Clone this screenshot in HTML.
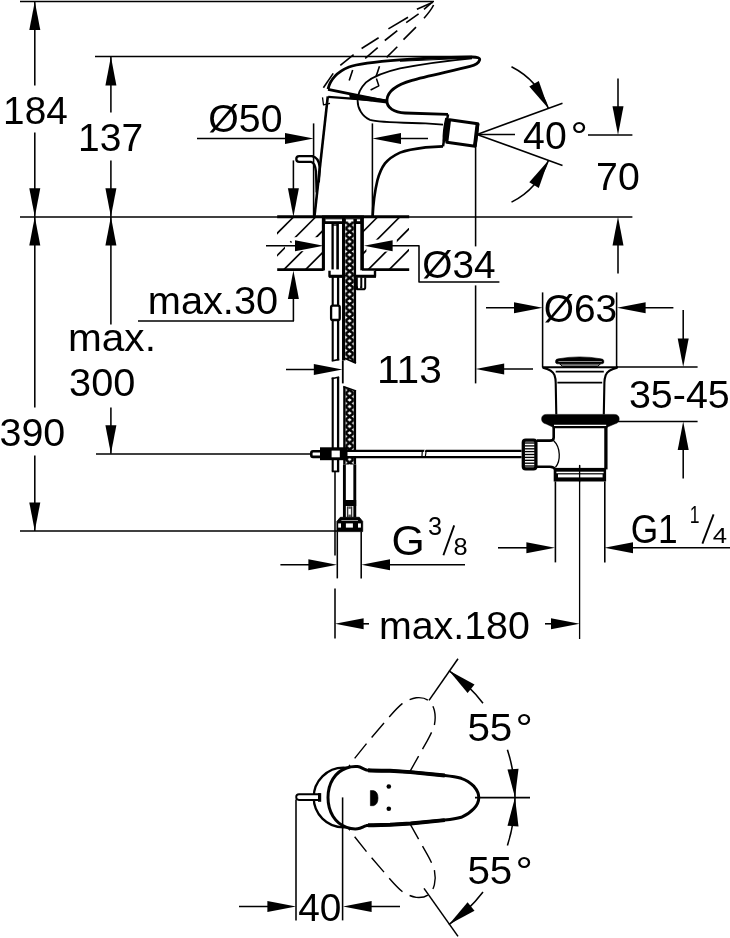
<!DOCTYPE html>
<html><head><meta charset="utf-8"><title>Dimension drawing</title>
<style>html,body{margin:0;padding:0;background:#fff;}svg{display:block;will-change:transform;}text{fill:#000;stroke:none;font-family:"Liberation Sans",sans-serif;}</style>
</head><body>
<svg width="730" height="938" viewBox="0 0 730 938" stroke="#000" fill="none" stroke-linecap="butt" stroke-linejoin="round" font-family="Liberation Sans, sans-serif">
<defs><pattern id="hose" x="345.4" y="221.4" width="8.4" height="6.6" patternUnits="userSpaceOnUse"><rect width="8.4" height="6.6" fill="#fff" stroke="none"/><path d="M0,0L8.4,6.6M8.4,0L0,6.6" stroke="#000" stroke-width="2.5"/></pattern><clipPath id="hl"><rect x="277" y="216.4" width="46.6" height="53"/></clipPath><clipPath id="hr"><rect x="362" y="216.4" width="47" height="53"/></clipPath></defs>
<rect x="0" y="0" width="730" height="938" fill="#fff" stroke="none"/>
<g transform="translate(0,0.4)">
<line x1="20.0" y1="1.0" x2="434.0" y2="1.0" stroke-width="1.55" />
<line x1="95.0" y1="56.1" x2="472.0" y2="56.1" stroke-width="1.55" />
<line x1="20.0" y1="216.5" x2="632.4" y2="216.5" stroke-width="1.55" />
<line x1="96.0" y1="453.6" x2="310.0" y2="453.6" stroke-width="1.55" />
<line x1="20.0" y1="530.6" x2="337.0" y2="530.6" stroke-width="1.55" />
<line x1="34.8" y1="1.0" x2="34.8" y2="85.0" stroke-width="1.55" />
<line x1="34.8" y1="132.0" x2="34.8" y2="216.4" stroke-width="1.55" />
<polygon points="34.8,1.0 40.3,29.6 29.3,29.6" fill="#000" stroke="none"/>
<polygon points="34.8,216.4 29.3,187.8 40.3,187.8" fill="#000" stroke="none"/>
<polygon points="34.8,216.4 40.3,245.0 29.3,245.0" fill="#000" stroke="none"/>
<line x1="34.8" y1="216.4" x2="34.8" y2="407.0" stroke-width="1.55" />
<line x1="34.8" y1="455.0" x2="34.8" y2="530.6" stroke-width="1.55" />
<polygon points="34.8,530.6 29.3,502.0 40.3,502.0" fill="#000" stroke="none"/>
<line x1="110.9" y1="56.4" x2="110.9" y2="112.0" stroke-width="1.55" />
<line x1="110.9" y1="160.0" x2="110.9" y2="216.4" stroke-width="1.55" />
<polygon points="110.9,56.4 116.4,85.0 105.4,85.0" fill="#000" stroke="none"/>
<polygon points="110.9,216.4 105.4,187.8 116.4,187.8" fill="#000" stroke="none"/>
<polygon points="110.9,216.4 116.4,245.0 105.4,245.0" fill="#000" stroke="none"/>
<line x1="110.9" y1="216.4" x2="110.9" y2="324.0" stroke-width="1.55" />
<line x1="110.9" y1="407.0" x2="110.9" y2="453.4" stroke-width="1.55" />
<polygon points="110.9,453.4 105.4,424.8 116.4,424.8" fill="#000" stroke="none"/>
<line x1="197.0" y1="138.0" x2="300.0" y2="138.0" stroke-width="1.55" />
<polygon points="313.6,138.0 285.0,143.5 285.0,132.5" fill="#000" stroke="none"/>
<line x1="313.6" y1="123.0" x2="313.6" y2="216.4" stroke-width="1.55" />
<line x1="372.4" y1="123.0" x2="372.4" y2="216.4" stroke-width="1.55" />
<polygon points="372.4,138.0 401.0,132.5 401.0,143.5" fill="#000" stroke="none"/>
<line x1="390.0" y1="138.0" x2="428.0" y2="138.0" stroke-width="1.55" />
<line x1="293.4" y1="160.0" x2="293.4" y2="200.0" stroke-width="1.55" />
<polygon points="293.4,216.4 287.9,187.8 298.9,187.8" fill="#000" stroke="none"/>
<polygon points="293.4,270.0 298.9,298.6 287.9,298.6" fill="#000" stroke="none"/>
<line x1="293.4" y1="290.0" x2="293.4" y2="320.6" stroke-width="1.55" />
<line x1="138.0" y1="320.6" x2="294.0" y2="320.6" stroke-width="1.55" />
<line x1="475.6" y1="146.0" x2="475.6" y2="246.0" stroke-width="1.55" />
<line x1="475.6" y1="285.0" x2="475.6" y2="383.0" stroke-width="1.55" />
<line x1="286.0" y1="369.0" x2="320.0" y2="369.0" stroke-width="1.55" />
<polygon points="342.4,369.0 313.8,374.5 313.8,363.5" fill="#000" stroke="none"/>
<polygon points="475.6,368.6 504.2,363.1 504.2,374.1" fill="#000" stroke="none"/>
<line x1="500.0" y1="368.6" x2="533.0" y2="368.6" stroke-width="1.55" />
<line x1="542.6" y1="292.0" x2="542.6" y2="367.0" stroke-width="1.55" />
<line x1="616.6" y1="292.0" x2="616.6" y2="367.0" stroke-width="1.55" />
<line x1="486.0" y1="307.4" x2="520.0" y2="307.4" stroke-width="1.55" />
<polygon points="542.6,307.4 514.0,312.9 514.0,301.9" fill="#000" stroke="none"/>
<polygon points="617.0,307.4 645.6,301.9 645.6,312.9" fill="#000" stroke="none"/>
<line x1="640.0" y1="307.4" x2="673.4" y2="307.4" stroke-width="1.55" />
<line x1="616.0" y1="366.6" x2="697.6" y2="366.6" stroke-width="1.55" />
<line x1="683.2" y1="309.6" x2="683.2" y2="345.0" stroke-width="1.55" />
<polygon points="683.2,366.6 677.7,338.0 688.7,338.0" fill="#000" stroke="none"/>
<line x1="618.0" y1="421.0" x2="697.6" y2="421.0" stroke-width="1.55" />
<polygon points="683.2,421.0 688.7,449.6 677.7,449.6" fill="#000" stroke="none"/>
<line x1="683.2" y1="445.0" x2="683.2" y2="478.0" stroke-width="1.55" />
<line x1="588.0" y1="134.5" x2="632.4" y2="134.5" stroke-width="1.55" />
<line x1="618.0" y1="78.0" x2="618.0" y2="110.0" stroke-width="1.55" />
<polygon points="618.0,134.5 612.5,105.9 623.5,105.9" fill="#000" stroke="none"/>
<polygon points="618.0,216.4 623.5,245.0 612.5,245.0" fill="#000" stroke="none"/>
<line x1="618.0" y1="240.0" x2="618.0" y2="273.2" stroke-width="1.55" />
<line x1="477.0" y1="134.0" x2="562.5" y2="102.9" stroke-width="1.55" />
<line x1="477.0" y1="134.0" x2="562.5" y2="165.1" stroke-width="1.55" />
<line x1="477.0" y1="134.0" x2="515.0" y2="134.0" stroke-width="1.55" />
<path d="M548.4,108.0 A76,76 0 0 0 511.5,66.3" stroke-width="1.55" fill="none" />
<polygon points="548.4,108.0 529.3,86.1 538.8,80.5" fill="#000" stroke="none"/>
<path d="M548.4,160.0 A76,76 0 0 1 511.5,201.7" stroke-width="1.55" fill="none" />
<polygon points="548.4,160.0 538.8,187.5 529.3,181.9" fill="#000" stroke="none"/>
<line x1="337.3" y1="531.0" x2="337.3" y2="578.0" stroke-width="1.55" />
<line x1="361.2" y1="531.0" x2="361.2" y2="578.0" stroke-width="1.55" />
<line x1="280.4" y1="564.4" x2="315.0" y2="564.4" stroke-width="1.55" />
<polygon points="337.0,564.4 308.4,569.9 308.4,558.9" fill="#000" stroke="none"/>
<polygon points="361.4,564.4 390.0,558.9 390.0,569.9" fill="#000" stroke="none"/>
<line x1="385.0" y1="564.4" x2="465.0" y2="564.4" stroke-width="1.55" />
<line x1="498.0" y1="547.4" x2="530.0" y2="547.4" stroke-width="1.55" />
<polygon points="555.0,547.4 526.4,552.9 526.4,541.9" fill="#000" stroke="none"/>
<polygon points="604.4,547.4 633.0,541.9 633.0,552.9" fill="#000" stroke="none"/>
<line x1="628.0" y1="547.4" x2="730.0" y2="547.4" stroke-width="1.55" />
<line x1="335.0" y1="471.0" x2="335.0" y2="555.0" stroke-width="1.55" />
<line x1="335.0" y1="588.0" x2="335.0" y2="638.0" stroke-width="1.55" />
<polygon points="335.0,623.4 363.6,617.9 363.6,628.9" fill="#000" stroke="none"/>
<line x1="360.0" y1="623.4" x2="369.0" y2="623.4" stroke-width="1.55" />
<line x1="545.0" y1="623.4" x2="555.0" y2="623.4" stroke-width="1.55" />
<polygon points="579.6,623.4 551.0,628.9 551.0,617.9" fill="#000" stroke="none"/>
<line x1="277.2" y1="216.4" x2="409.2" y2="216.4" stroke-width="2.9" />
<line x1="277.2" y1="269.2" x2="323.6" y2="269.2" stroke-width="2.8" />
<line x1="362.0" y1="269.2" x2="409.2" y2="269.2" stroke-width="2.8" />
<g clip-path="url(#hl)">
<line x1="293.5" y1="216.6" x2="233.5" y2="276.6" stroke-width="1.7" />
<line x1="315.6" y1="216.6" x2="255.6" y2="276.6" stroke-width="1.7" />
<line x1="336.5" y1="216.6" x2="276.5" y2="276.6" stroke-width="1.7" />
<line x1="358.2" y1="216.6" x2="298.2" y2="276.6" stroke-width="1.7" />
<rect x="285" y="236.8" width="38" height="14" fill="#fff" stroke="none"/>
<line x1="290.4" y1="241.9" x2="291.4" y2="240.9" stroke-width="1.9" />
</g>
<g clip-path="url(#hr)">
<line x1="377.6" y1="216.6" x2="317.6" y2="276.6" stroke-width="1.7" />
<line x1="399.7" y1="216.6" x2="339.7" y2="276.6" stroke-width="1.7" />
<line x1="420.8" y1="216.6" x2="360.8" y2="276.6" stroke-width="1.7" />
<line x1="441.8" y1="216.6" x2="381.8" y2="276.6" stroke-width="1.7" />
<rect x="366.4" y="239.2" width="30.4" height="12" fill="#fff" stroke="none"/>
</g>
<line x1="323.4" y1="216.4" x2="323.4" y2="270.0" stroke-width="3.1" />
<line x1="362.1" y1="216.4" x2="362.1" y2="270.0" stroke-width="3.6" />
<line x1="322.0" y1="216.5" x2="364.0" y2="216.5" stroke-width="3.0" />
<rect x="324" y="218" width="38" height="5.6" fill="#000" stroke="none"/>
<rect x="325.5" y="218.9" width="16.5" height="1.9" fill="#fff" stroke="none"/>
<rect x="345.8" y="218.9" width="7.6" height="3.2" fill="#fff" stroke="none"/>
<rect x="356.9" y="218.9" width="3.2" height="1.9" fill="#fff" stroke="none"/>
<line x1="332.6" y1="223.0" x2="332.6" y2="269.0" stroke-width="2.3" />
<line x1="337.6" y1="223.0" x2="337.6" y2="269.0" stroke-width="2.6" />
<line x1="333.0" y1="224.6" x2="337.5" y2="224.6" stroke-width="1.4" />
<path d="M329.5,270.4 L329.5,275.8 L375,275.8 L375,270.4" stroke-width="2.4" fill="#fff" />
<line x1="329.0" y1="275.9" x2="376.0" y2="275.9" stroke-width="3.0" />
<path d="M357,277 L357,288.8 L363.4,288.8 Q365.2,288.8 365.2,287 L365.2,277" stroke-width="2.0" fill="none" />
<line x1="361.2" y1="277.0" x2="361.2" y2="288.0" stroke-width="2.2" />
<rect x="357.8" y="277.4" width="2.4" height="8.6" fill="#fff" stroke="none"/>
<line x1="332.7" y1="276.4" x2="332.7" y2="360.0" stroke-width="2.1" />
<line x1="332.7" y1="377.0" x2="332.7" y2="471.0" stroke-width="2.1" />
<line x1="338.1" y1="276.4" x2="338.1" y2="360.0" stroke-width="2.3" />
<line x1="338.1" y1="377.0" x2="338.1" y2="471.0" stroke-width="2.3" />
<line x1="331.8" y1="471.0" x2="339.2" y2="471.0" stroke-width="1.8" />
<path d="M331.7,360.6 L339.2,359" stroke-width="1.6" fill="none" />
<path d="M331.7,378.4 L339.2,376.6" stroke-width="1.6" fill="none" />
<rect x="331.1" y="305.2" width="8.6" height="14.4" rx="1.6" fill="#fff" stroke-width="2.3"/>
<line x1="343.7" y1="216.4" x2="343.7" y2="360.0" stroke-width="3.4" />
<line x1="342.8" y1="360.0" x2="342.8" y2="383.0" stroke-width="1.8" />
<path d="M345.4,221 L353.8,221 L353.8,362 L345.4,358 Z" fill="url(#hose)" stroke="none"/>
<line x1="354.9" y1="223.0" x2="354.9" y2="362.6" stroke-width="2.4" />
<path d="M343,357.2 L356,362.8" stroke-width="1.6" fill="none" />
<path d="M345.4,387.4 L353.8,390.4 L353.8,464 L345.4,464 Z" fill="url(#hose)" stroke="none"/>
<line x1="344.4" y1="386.4" x2="344.4" y2="464.0" stroke-width="2.4" />
<line x1="354.9" y1="390.0" x2="354.9" y2="464.0" stroke-width="2.4" />
<path d="M343.2,386 L356,390.6" stroke-width="1.6" fill="none" />
<line x1="344.4" y1="464.0" x2="344.4" y2="517.0" stroke-width="2.9" />
<line x1="354.8" y1="464.0" x2="354.8" y2="517.0" stroke-width="2.9" />
<rect x="343" y="499.6" width="13.2" height="6" fill="#000" stroke="none"/>
<line x1="347.6" y1="506.0" x2="347.6" y2="516.6" stroke-width="1.4" stroke="#333"/>
<line x1="351.6" y1="506.0" x2="351.6" y2="516.6" stroke-width="1.4" stroke="#333"/>
<rect x="348.3" y="506" width="2.6" height="2.4" fill="#555" stroke="none"/>
<rect x="348.3" y="514.2" width="2.6" height="2.4" fill="#555" stroke="none"/>
<path d="M336.9,531.2 L336.9,521 L340.3,516.9 L359.3,516.9 L362.7,521 L362.7,531.2 Z" stroke-width="0.8" fill="#000" />
<line x1="341.4" y1="520.1" x2="358.0" y2="520.1" stroke-width="0.7" stroke="#ddd"/>
<rect x="338.2" y="523" width="2.8" height="4.2" fill="#fff" stroke="none"/>
<rect x="345.9" y="523" width="7" height="4.2" fill="#fff" stroke="none"/>
<rect x="358" y="523" width="2.9" height="4.2" fill="#fff" stroke="none"/>
<line x1="266.0" y1="245.4" x2="300.0" y2="245.4" stroke-width="1.55" />
<polygon points="323.6,245.4 295.0,250.9 295.0,239.9" fill="#000" stroke="none"/>
<polygon points="364.0,245.4 392.6,239.9 392.6,250.9" fill="#000" stroke="none"/>
<path d="M385,245.4 L419,245.4 L419,281.6 L499.4,281.6" stroke-width="1.55" fill="none" />
<rect x="346" y="450.5" width="175.6" height="6.3" fill="#fff" stroke="none"/>
<line x1="346.0" y1="450.5" x2="521.6" y2="450.5" stroke-width="2.3" />
<line x1="346.0" y1="456.7" x2="521.6" y2="456.7" stroke-width="2.3" />
<path d="M425.4,448.6 L423.8,452.4" stroke-width="1.0" fill="none" stroke="#fff"/>
<path d="M422.2,451.6 L422,455.6" stroke-width="1.2" fill="none" />
<path d="M426,451.6 L425.4,455.6" stroke-width="1.2" fill="none" />
<path d="M320,450.9 L313,450.9 Q311.3,450.9 311.3,452.6 L311.3,454.6 Q311.3,456.5 313,456.5 L320,456.5" stroke-width="2.6" fill="#fff" />
<rect x="320" y="446.9" width="27.5" height="12.9" fill="#000" stroke="none"/>
<rect x="331.6" y="450.2" width="8.2" height="6.7" fill="#fff" stroke="none"/>
<line x1="555.4" y1="481.0" x2="555.4" y2="562.0" stroke-width="1.6" />
<line x1="604.8" y1="481.0" x2="604.8" y2="562.0" stroke-width="1.6" />
<line x1="579.6" y1="465.0" x2="579.6" y2="638.6" stroke-width="1.3" />
<path d="M557.2,363.4 Q555.2,363.4 555.6,360.4 Q555.8,358.6 558.4,358.4 Q579.6,354.6 600.8,358.4 Q603.6,358.6 603.8,360.4 Q604.2,363.4 602.2,363.4 Z" stroke-width="0.6" fill="#000" />
<line x1="558.4" y1="361.1" x2="601.8" y2="361.1" stroke-width="1.1" stroke="#8c8c8c"/>
<path d="M559.6,363.4 L562.6,366 L597.6,366 L600.6,363.4 Z" stroke-width="1.0" fill="#8a8a8a" />
<line x1="542.2" y1="366.9" x2="618.0" y2="366.9" stroke-width="2.1" />
<path d="M542.8,367.3 C549,368.6 553,370.6 554.5,374.7 C555.4,377.4 555.7,380 555.7,382 L556.3,414" stroke-width="2.1" fill="none" />
<path d="M617.4,367.3 C611.2,368.6 607.2,370.6 605.7,374.7 C604.8,377.4 604.4,380 604.4,382 L603.8,414" stroke-width="2.1" fill="none" />
<line x1="555.7" y1="371.2" x2="603.8" y2="371.2" stroke-width="1.7" />
<line x1="557.4" y1="382.2" x2="602.2" y2="382.2" stroke-width="1.6" />
<path d="M546.6,414 L614.2,414 Q619.2,414 619.2,418.6 Q619.2,422.6 614.6,423.6 L608,426.4 L607,427.6 L553,427.6 L552.2,426.4 L546.2,423.6 Q541.6,422.6 541.6,418.6 Q541.6,414 546.6,414 Z" stroke-width="0.5" fill="#000" />
<line x1="554.0" y1="424.9" x2="606.2" y2="424.9" stroke-width="1.2" stroke="#fff"/>
<path d="M553.7,427 L553.7,437 Q553.7,440.2 550,440.2 L537,440.2" stroke-width="2.6" fill="none" />
<path d="M605.9,427 L605.9,469" stroke-width="3.3" fill="none" />
<path d="M537,466.3 L550,466.3 Q554,466.3 556,469.6" stroke-width="2.6" fill="none" />
<path d="M553.7,440.4 C560.8,447 560.8,461 555.5,466.8" stroke-width="1.3" fill="none" />
<rect x="523.3" y="439.7" width="12.6" height="28.8" rx="2.4" fill="#fff" stroke-width="3.3"/>
<line x1="524.6" y1="442.6" x2="534.8" y2="442.6" stroke-width="1.35" />
<line x1="524.6" y1="445.5" x2="534.8" y2="445.5" stroke-width="1.35" />
<line x1="524.6" y1="448.4" x2="534.8" y2="448.4" stroke-width="1.35" />
<line x1="524.6" y1="451.2" x2="534.8" y2="451.2" stroke-width="1.35" />
<line x1="524.6" y1="454.1" x2="534.8" y2="454.1" stroke-width="1.35" />
<line x1="524.6" y1="457.0" x2="534.8" y2="457.0" stroke-width="1.35" />
<line x1="524.6" y1="459.9" x2="534.8" y2="459.9" stroke-width="1.35" />
<line x1="524.6" y1="462.8" x2="534.8" y2="462.8" stroke-width="1.35" />
<line x1="524.6" y1="465.6" x2="534.8" y2="465.6" stroke-width="1.35" />
<rect x="553.7" y="467.5" width="52.4" height="13.6" fill="#000" stroke="none"/>
<rect x="556.4" y="471.3" width="47.2" height="1.5" fill="#fff" stroke="none"/>
<rect x="558" y="474" width="44.6" height="3" fill="#fff" stroke="none"/>
<line x1="579.6" y1="464.5" x2="579.6" y2="482.0" stroke-width="1.3" />
<path d="M314,155.7 L299.2,155.7 Q296.3,155.7 296.3,158.55 Q296.3,161.4 299.2,161.4 L311,161.4 Q315,162 316,171 L316.6,192" stroke-width="2.3" fill="none" />
<path d="M312,155.7 Q318.6,156.6 319.8,167 L318.8,182" stroke-width="2.3" fill="none" />
<line x1="327.8" y1="96.0" x2="314.4" y2="216.4" stroke-width="2.6" />
<path d="M372.6,216.4 C373.4,200 375,190 377.4,180 C379.5,172 382,167 385,163 C389,158 394,155 400,152.2 C407,149.6 416,148.2 425.6,147 L443,146" stroke-width="2.6" fill="none" />
<path d="M472,57.9 C450,60 420,64 400,68 C385,71.5 372,77 366,82 C360,88 357.6,95 357.6,100 C357.6,108 362,116 370,119.5 C378,122 392,122 425.6,123 L443,124.2" stroke-width="1.8" fill="none" />
<line x1="400.0" y1="60.8" x2="472.0" y2="57.6" stroke-width="1.1" />
<path d="M328,88.7 C330,80 336,72 349,66.6 C360,62.5 380,61 400,59.5 C420,58 450,57 472,56.6 C477.5,56.6 480.4,57.6 479.6,59.6 C478.6,63 474,65 470,66 C455,70 425,76 412,80 C398,84 388,90 387,99 C386,108 395,112.2 405,112.6 L448,114" stroke-width="2.8" fill="none" />
<line x1="328.0" y1="88.9" x2="387.0" y2="101.0" stroke-width="2.8" />
<line x1="328.2" y1="96.4" x2="372.0" y2="99.8" stroke-width="2.2" />
<polygon points="349,93.4 387,99.2 387,103 350,98.6" fill="#000" stroke="none"/>
<line x1="448.0" y1="114.0" x2="443.0" y2="146.0" stroke-width="2.5" />
<path d="M447.4,118 Q444.4,130 444.8,141" stroke-width="4.4" fill="none" />
<path d="M449.6,119.4 L477.8,123.4 L475,145.8 L446.8,141.8 Z" stroke-width="3.0" fill="#fff" />
<line x1="477.6" y1="123.2" x2="474.8" y2="146.0" stroke-width="3.8" />
<line x1="416.9" y1="8.9" x2="432.9" y2="1.8" stroke-width="1.6" />
<line x1="388.4" y1="28.5" x2="408.0" y2="16.9" stroke-width="1.6" />
<line x1="361.6" y1="48.1" x2="378.6" y2="37.4" stroke-width="1.6" />
<line x1="340.3" y1="65.0" x2="353.6" y2="54.3" stroke-width="1.6" />
<line x1="323.4" y1="87.3" x2="333.2" y2="73.0" stroke-width="1.6" />
<line x1="424.0" y1="8.9" x2="431.1" y2="2.7" stroke-width="1.6" />
<line x1="406.2" y1="22.3" x2="418.6" y2="13.4" stroke-width="1.6" />
<line x1="384.8" y1="40.1" x2="397.3" y2="30.3" stroke-width="1.6" />
<line x1="365.2" y1="57.9" x2="377.7" y2="47.2" stroke-width="1.6" />
<line x1="349.2" y1="80.1" x2="352.7" y2="69.5" stroke-width="1.6" />
<line x1="403.5" y1="39.2" x2="416.0" y2="26.7" stroke-width="1.6" />
<line x1="386.6" y1="57.0" x2="397.3" y2="46.3" stroke-width="1.6" />
<line x1="375.9" y1="76.6" x2="379.5" y2="65.9" stroke-width="1.6" />
<path d="M424,17.8 Q431,10 433.6,4.6" stroke-width="1.6" fill="none" />
<path d="M376.4,78 L378.8,85.4 L370.6,89.6" stroke-width="1.5" fill="none" />
<path d="M322.5,97 L323.5,104.5 L330,103" stroke-width="1.3" fill="none" />
<path d="M370,769.9 C378,770.3 384,770.3 390,770.4 L410.5,771.7 L444.8,775.1 C452,775.9 458,777 461.2,777.9 C466,779.5 471,783 474,786 C477,789.5 478.8,793 478.8,797 C478.8,801 477,804.8 474,808.2 C471,811.5 466,815 461.2,816.9 C458,817.9 452,819 444.8,819.7 L410.5,823.1 L404,823.5" transform="rotate(-55 360 797.2)" stroke-width="1.4" stroke-dasharray="19 8" stroke-dashoffset="8" fill="none"/>
<path d="M370,769.9 C378,770.3 384,770.3 390,770.4 L410.5,771.7 L444.8,775.1 C452,775.9 458,777 461.2,777.9 C466,779.5 471,783 474,786 C477,789.5 478.8,793 478.8,797 C478.8,801 477,804.8 474,808.2 C471,811.5 466,815 461.2,816.9 C458,817.9 452,819 444.8,819.7 L410.5,823.1 L404,823.5" transform="rotate(55 360 797.2) translate(0,1594.4) scale(1,-1)" stroke-width="1.4" stroke-dasharray="19 8" stroke-dashoffset="8" fill="none"/>
<circle cx="343.5" cy="797.1" r="29.8" stroke-width="2.3" fill="none"/>
<path d="M346.6,767.6 C350,766.4 354,765.9 357.5,766.2 C361,766.5 363,768.6 366.5,769.6 C371,770.4 380,770.2 390,770.4 L410.5,771.7 L444.8,775.1 C452,775.9 458,777 461.2,777.9 C466,779.5 471,783 474,786 C477,789.5 478.8,793 478.8,797 C478.8,801 477,804.8 474,808.2 C471,811.5 466,815 461.2,816.9 C458,817.9 452,819 444.8,819.7 L410.5,823.1 L390,824.4 C380,824.6 371,824.4 366.5,825.2 C363,826.2 361,828.1 357.5,828.4 C354,828.7 350,828.2 346.6,827 C335,823 328,811.4 328,797.2 C328,783 335,771.4 346.6,767.6 Z" stroke-width="3.0" fill="#fff" />
<path d="M368,769.9 C374,770.4 382,770.2 390,770.4 L410.5,771.7 L444.8,775.1" stroke-width="3.9" fill="none" />
<path d="M368,824.9 C374,824.5 382,824.6 390,824.4 L410.5,823.1 L444.8,819.7" stroke-width="3.9" fill="none" />
<circle cx="388.8" cy="786.1" r="2.3" fill="#000" stroke="none"/>
<circle cx="388.8" cy="808.3" r="2.3" fill="#000" stroke="none"/>
<path d="M370.4,790.2 L373.4,790.2 Q378,791.2 378,797.7 Q378,804.2 373.4,805.3 L370.4,805.3 Z" stroke-width="0.6" fill="#000" />
<path d="M320,793.9 L299,793.9 Q296.2,793.9 296.2,796.7 Q296.2,799.6 299,799.6 L320,799.6" stroke-width="1.9" fill="#fff" />
<line x1="319.6" y1="792.7" x2="319.6" y2="801.4" stroke-width="3.2" />
<line x1="296.0" y1="799.0" x2="296.0" y2="920.0" stroke-width="1.55" />
<line x1="342.6" y1="797.0" x2="342.6" y2="920.0" stroke-width="1.55" />
<line x1="239.0" y1="906.0" x2="272.0" y2="906.0" stroke-width="1.55" />
<polygon points="296.0,906.0 267.4,911.5 267.4,900.5" fill="#000" stroke="none"/>
<polygon points="343.0,906.0 371.6,900.5 371.6,911.5" fill="#000" stroke="none"/>
<line x1="366.0" y1="906.0" x2="400.0" y2="906.0" stroke-width="1.55" />
<line x1="475.0" y1="797.2" x2="530.0" y2="797.2" stroke-width="1.55" />
<line x1="429.0" y1="700.0" x2="458.0" y2="658.4" stroke-width="1.55" />
<line x1="424.0" y1="888.0" x2="458.0" y2="936.0" stroke-width="1.55" />
<path d="M515.0,797.2 A155,155 0 0 0 507.4,749.3" stroke-width="1.55" fill="none" />
<polygon points="515.0,797.2 507.5,769.1 518.5,768.3" fill="#000" stroke="none"/>
<path d="M483.0,702.8 A155,155 0 0 0 448.9,670.2" stroke-width="1.55" fill="none" />
<polygon points="448.9,670.2 474.5,684.0 467.6,692.6" fill="#000" stroke="none"/>
<path d="M515.0,797.2 A155,155 0 0 1 507.4,845.1" stroke-width="1.55" fill="none" />
<polygon points="515.0,797.2 518.5,826.1 507.5,825.3" fill="#000" stroke="none"/>
<path d="M483.0,891.6 A155,155 0 0 1 448.9,924.2" stroke-width="1.55" fill="none" />
<polygon points="448.9,924.2 467.6,901.8 474.5,910.4" fill="#000" stroke="none"/>
<text transform="translate(3.10,123.20) scale(0.993,1)" font-size="39" >184</text>
<text transform="translate(-0.48,446.00) scale(1.011,1)" font-size="39" >390</text>
<text transform="translate(78.08,150.40) scale(0.999,1)" font-size="39" >137</text>
<text transform="translate(67.96,350.80) scale(1.041,1)" font-size="39" >max.</text>
<text transform="translate(69.11,395.40) scale(1.018,1)" font-size="39" >300</text>
<text transform="translate(208.32,131.20) scale(1.006,1)" font-size="39" >&#216;50</text>
<text transform="translate(147.82,313.40) scale(1.019,1)" font-size="39" >max.30</text>
<text transform="translate(422.34,278.00) scale(0.995,1)" font-size="39" >&#216;34</text>
<text transform="translate(376.95,383.00) scale(1.043,1)" font-size="39" >113</text>
<text transform="translate(543.74,321.60) scale(0.996,1)" font-size="39" >&#216;63</text>
<text transform="translate(628.92,407.60) scale(1.011,1)" font-size="39" >35-45</text>
<text transform="translate(596.03,190.00) scale(1.008,1)" font-size="39" >70</text>
<text transform="translate(523.12,148.40) scale(1.006,1)" font-size="39" >40</text>
<text transform="translate(570.52,148.40) scale(1.107,1)" font-size="39" >&#176;</text>
<text transform="translate(391.46,554.60) scale(1.018,1)" font-size="42" >G</text>
<text transform="translate(428.05,534.60) scale(1.011,1)" font-size="25" >3</text>
<text transform="translate(453.52,554.60) scale(1.058,1)" font-size="24" >8</text>
<text transform="translate(630.63,543.00) scale(0.861,1)" font-size="41" >G1</text>
<text transform="translate(689.68,523.00) scale(0.748,1)" font-size="23.5" >1</text>
<text transform="translate(712.82,542.80) scale(1.144,1)" font-size="22.5" >4</text>
<text transform="translate(378.94,638.60) scale(1.009,1)" font-size="39" >max.180</text>
<text transform="translate(298.13,920.60) scale(0.996,1)" font-size="39" >40</text>
<text transform="translate(467.38,740.20) scale(1.036,1)" font-size="39" >55</text>
<text transform="translate(515.52,740.20) scale(1.107,1)" font-size="39" >&#176;</text>
<text transform="translate(467.38,883.60) scale(1.036,1)" font-size="39" >55</text>
<text transform="translate(515.52,883.60) scale(1.107,1)" font-size="39" >&#176;</text>
<line x1="443.4" y1="554.8" x2="454.2" y2="525.0" stroke-width="1.9" />
<line x1="702.4" y1="543.2" x2="713.6" y2="514.0" stroke-width="1.9" />
</g>
</svg>
</body></html>
